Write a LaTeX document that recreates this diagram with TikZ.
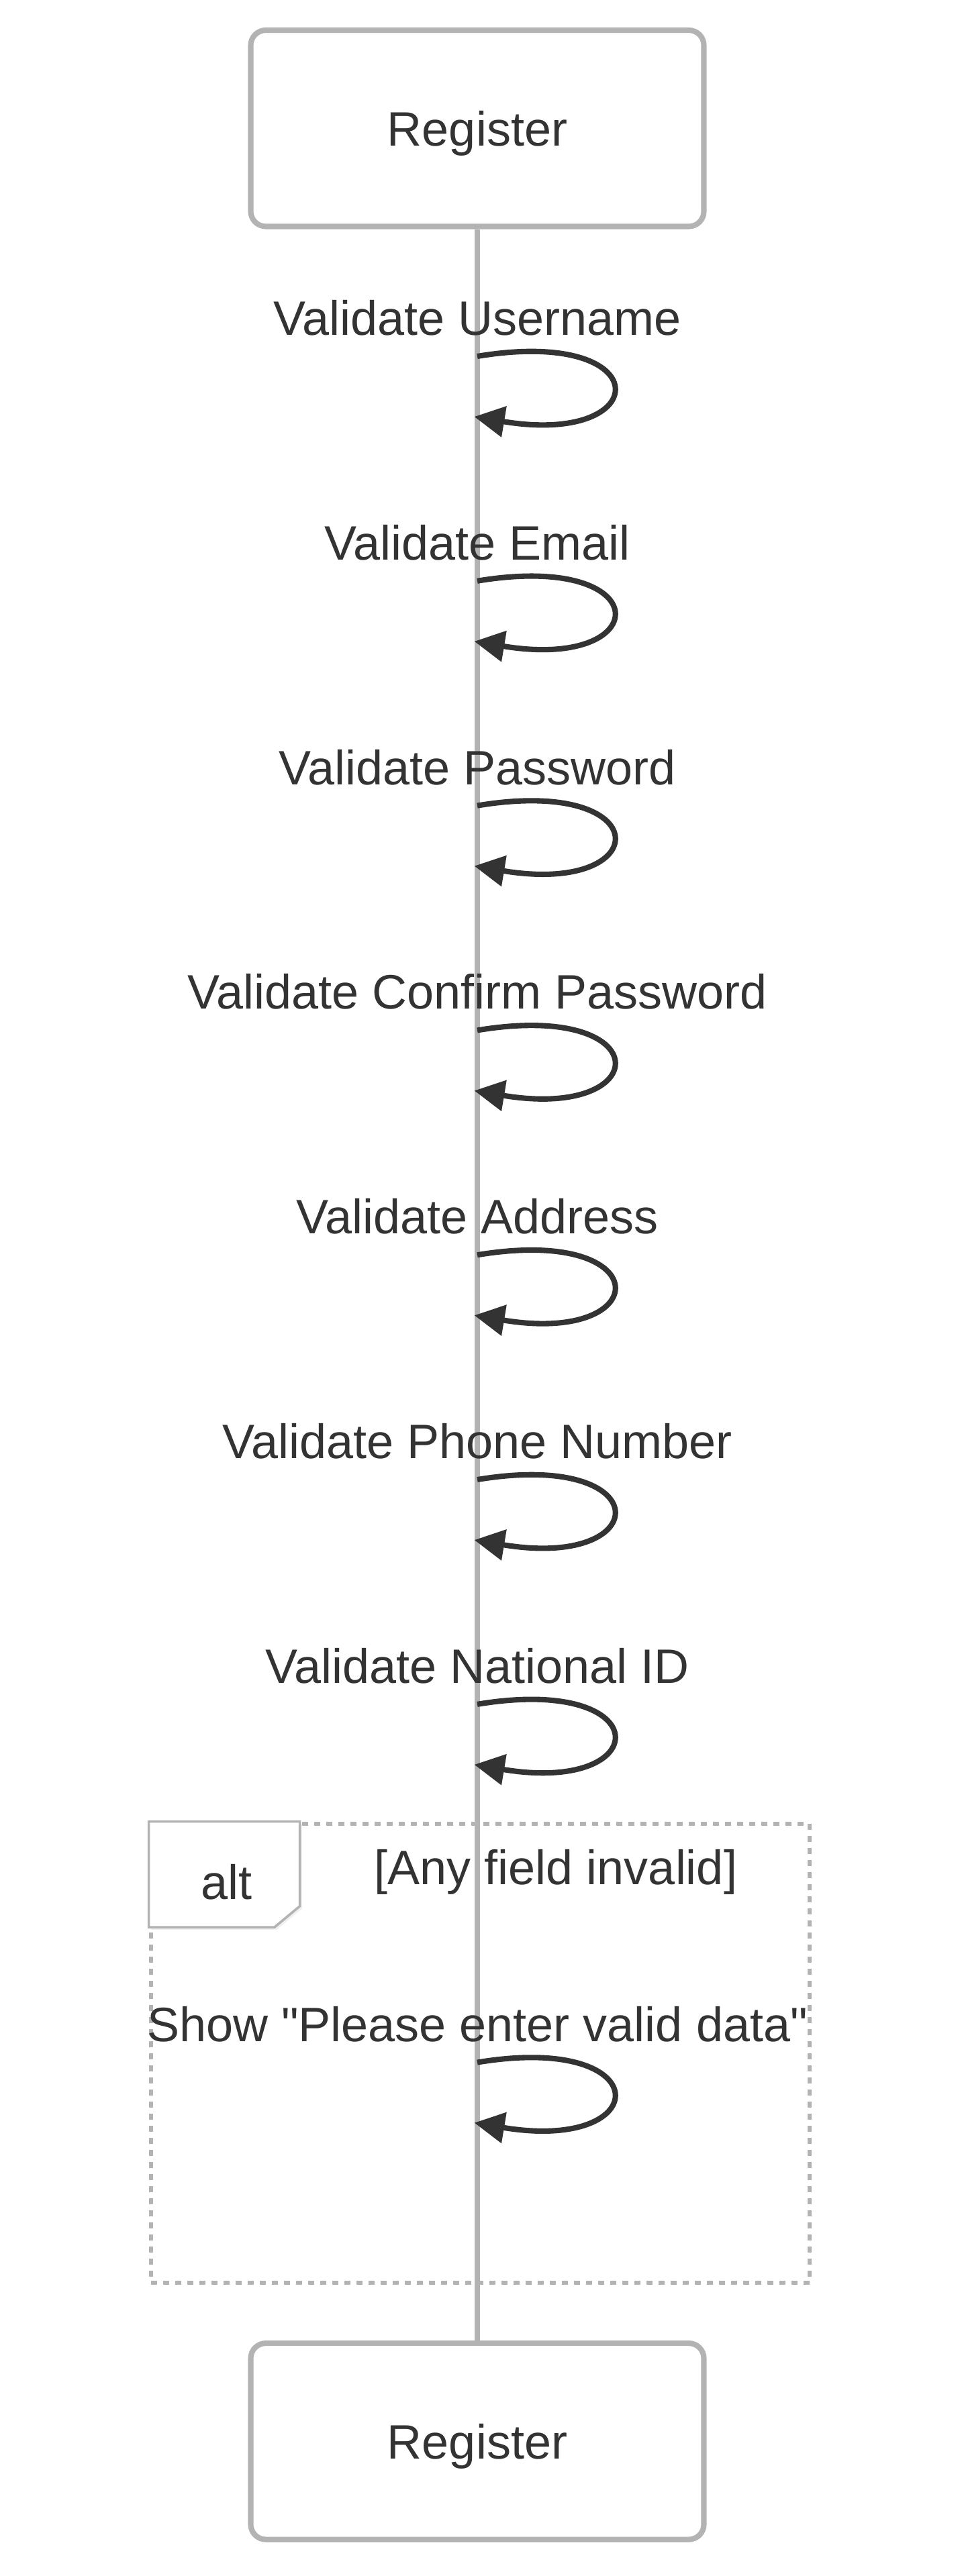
\documentclass[tikz,border=0pt]{standalone}
\usepackage{fontspec}
\setmainfont{Liberation Sans}[Ligatures=TeXOff]
\usetikzlibrary{arrows.meta,shadows}
\definecolor{linegray}{RGB}{179,179,179}
\definecolor{inkdark}{RGB}{51,51,51}

\begin{document}
\begin{tikzpicture}[
    x=1pt, y=-1pt,
    actor/.style={rectangle, rounded corners=5pt, draw=linegray, line width=1.8pt, fill=white, minimum width=150pt, minimum height=65pt, text=inkdark, text depth=0pt, font=\fontsize{16}{19}\selectfont},
    msg/.style={anchor=base, inner sep=0pt, text=inkdark, font=\fontsize{16}{19}\selectfont},
    selfloop/.style={draw=inkdark, line width=1.8pt, -{Triangle[length=10pt, width=10pt]}},
    lifeline/.style={draw=linegray, line width=1.8pt},
    altframe/.style={rectangle, draw=linegray, line width=1.5pt, dash pattern=on 2pt off 2pt, minimum width=218pt, minimum height=152pt, inner sep=0pt},
    alttag/.style={draw=linegray, line width=0.8pt, fill=white, drop shadow={shadow xshift=0.8pt, shadow yshift=-0.8pt, opacity=0.12}}
]
\useasboundingbox (0,0) rectangle (318.9,853.1);

% Cadre alt
\node[altframe] (altBox) at (159,680) {};

\node[actor] (registerTop) at (158,42.5) {Register};
\node[actor] (registerBottom) at (158,808.5) {Register};
\draw[lifeline] (registerTop.south) -- (registerBottom.north);

\draw[alttag] (altBox.north west) -- ++(50,0) -- ++(0,28) -- ++(-8.4,7) -- ++(-41.6,0) -- cycle;
\node[msg] (altLabel) at (75,629) {alt};
\node[msg] (altCond) at (184,624) {[Any field invalid]};

% Points sur la ligne de vie
\coordinate (user1) at (158,118);   \coordinate (user2) at (157,138);
\coordinate (mail1) at (158,192.4); \coordinate (mail2) at (157,212.4);
\coordinate (pass1) at (158,266.8); \coordinate (pass2) at (157,286.8);
\coordinate (conf1) at (158,341.2); \coordinate (conf2) at (157,361.2);
\coordinate (addr1) at (158,415.6); \coordinate (addr2) at (157,435.6);
\coordinate (phone1) at (158,490); \coordinate (phone2) at (157,510);
\coordinate (natid1) at (158,564.4); \coordinate (natid2) at (157,584.4);
\coordinate (show1) at (158,683);   \coordinate (show2) at (157,703);

% Libelles des messages
\node[msg] (userMsg) at (158,111) {Validate Username};
\node[msg] (mailMsg) at (158,185.4) {Validate Email};
\node[msg] (passMsg) at (158,259.8) {Validate Password};
\node[msg] (confMsg) at (158,334.2) {Validate Confirm Password};
\node[msg] (addrMsg) at (158,408.6) {Validate Address};
\node[msg] (phoneMsg) at (158,483) {Validate Phone Number};
\node[msg] (natidMsg) at (158,557.4) {Validate National ID};
\node[msg] (showMsg) at (158,676) {Show "Please enter valid data"};

% Messages vers soi-meme
\draw[selfloop] (user1) .. controls +(60,-10) and +(60,10) .. (user2);
\draw[selfloop] (mail1) .. controls +(60,-10) and +(60,10) .. (mail2);
\draw[selfloop] (pass1) .. controls +(60,-10) and +(60,10) .. (pass2);
\draw[selfloop] (conf1) .. controls +(60,-10) and +(60,10) .. (conf2);
\draw[selfloop] (addr1) .. controls +(60,-10) and +(60,10) .. (addr2);
\draw[selfloop] (phone1) .. controls +(60,-10) and +(60,10) .. (phone2);
\draw[selfloop] (natid1) .. controls +(60,-10) and +(60,10) .. (natid2);
\draw[selfloop] (show1) .. controls +(60,-10) and +(60,10) .. (show2);

\end{tikzpicture}
\end{document}
